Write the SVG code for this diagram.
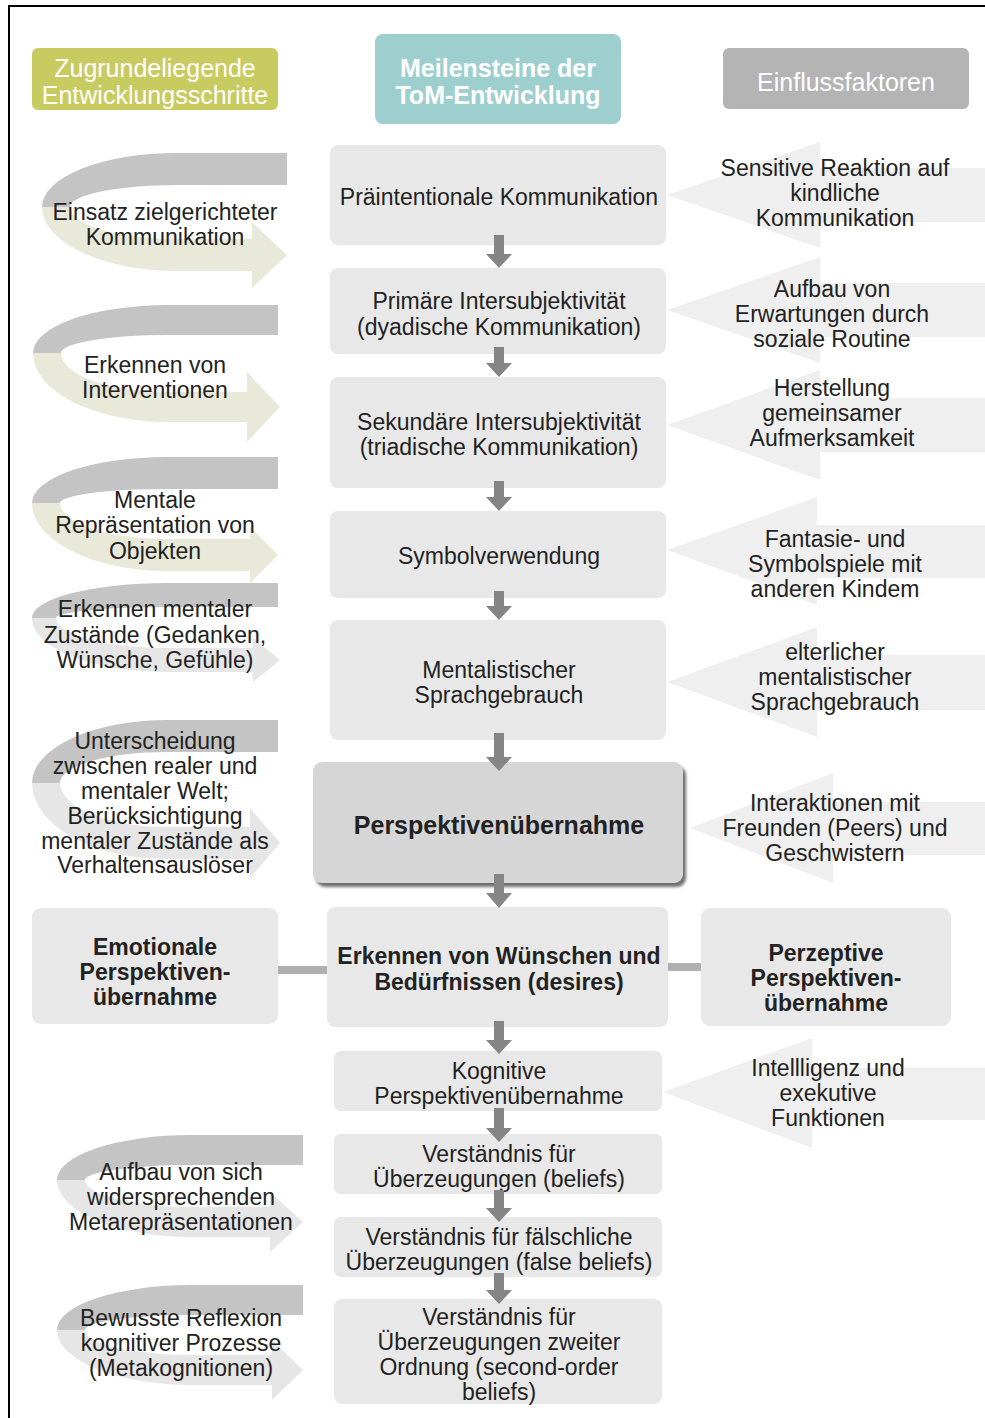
<svg xmlns="http://www.w3.org/2000/svg" width="985" height="1418" viewBox="0 0 985 1418">
<style>
text{font-family:"Liberation Sans",Arial,sans-serif;fill:#222;text-anchor:middle;font-size:23px}
.b{font-weight:bold}
.hd{fill:#fff;font-size:25px}
.box{fill:#e8e8e8}
.rarr{fill:#efefef}
.gband{fill:#c4c4c4}
.cband{fill:#e9e9d9}
.lband{fill:#e6e6e6}
.dn{fill:#858585}
.hl{fill:#b0b0b0}
</style>
<defs>
<filter id="sh" x="-5%" y="-5%" width="115%" height="120%">
<feDropShadow dx="3" dy="4" stdDeviation="1.8" flood-color="#555" flood-opacity="0.85"/>
</filter>
</defs>
<rect width="985" height="1418" fill="#fff"/>
<path d="M9,1418 V6 H985" fill="none" stroke="#000" stroke-width="2"/>

<g id="header-left"><rect x="32" y="48" width="246" height="62" rx="6" fill="#c8cb60"/><text class="hd" x="155" y="77">Zugrundeliegende</text><text class="hd" x="155" y="104">Entwicklungsschritte</text></g>
<g id="header-center"><rect x="375" y="34" width="246" height="90" rx="8" fill="#9dcfcf"/><text class="hd b" x="498" y="77">Meilensteine der</text><text class="hd b" x="498" y="104">ToM-Entwicklung</text></g>
<g id="header-right"><rect x="723" y="48" width="246" height="61" rx="6" fill="#b4b4b4"/><text class="hd" x="846" y="91">Einflussfaktoren</text></g>

<!-- right influence arrows -->
<g id="inf1"><polygon class="rarr" points="667,195 820,142 820,168 985,168 985,222 820,222 820,248"/><text x="835" y="176">Sensitive Reaktion auf</text><text x="835" y="201">kindliche</text><text x="835" y="226">Kommunikation</text></g>
<g id="inf2"><polygon class="rarr" points="667,310 820,257 820,283 985,283 985,337 820,337 820,363"/><text x="832" y="297">Aufbau von</text><text x="832" y="322">Erwartungen durch</text><text x="832" y="347">soziale Routine</text></g>
<g id="inf3"><polygon class="rarr" points="667,425 820,370 820,398 985,398 985,452 820,452 820,480"/><text x="832" y="396">Herstellung</text><text x="832" y="421">gemeinsamer</text><text x="832" y="446">Aufmerksamkeit</text></g>
<g id="inf4"><polygon class="rarr" points="667,550 817,497 817,525 985,525 985,578 817,578 817,605"/><text x="835" y="547">Fantasie- und</text><text x="835" y="572">Symbolspiele mit</text><text x="835" y="597">anderen Kindem</text></g>
<g id="inf5"><polygon class="rarr" points="667,682 817,627 817,655 985,655 985,710 817,710 817,737"/><text x="835" y="660">elterlicher</text><text x="835" y="685">mentalistischer</text><text x="835" y="710">Sprachgebrauch</text></g>
<g id="inf6"><polygon class="rarr" points="690,828 833,773 833,802 985,802 985,855 833,855 833,883"/><text x="835" y="811">Interaktionen mit</text><text x="835" y="836">Freunden (Peers) und</text><text x="835" y="861">Geschwistern</text></g>
<g id="inf7"><polygon class="rarr" points="663,1092 812,1038 812,1068 985,1068 985,1120 812,1120 812,1148"/><text x="828" y="1076">Intellligenz und</text><text x="828" y="1101">exekutive</text><text x="828" y="1126">Funktionen</text></g>

<!-- left development-step spiral arrows -->
<g id="step1"><path class="gband" d="M287,153 L177,153 A135,54 0 0 0 42,207 L70,207 A107,22 0 0 1 177,185 L287,185 Z"/><path class="cband" d="M42,207 A135,64 0 0 0 177,271 L252,271 L252,288 L287,255 L252,222 L252,239 L177,239 A107,32 0 0 1 70,207 Z"/><text x="165" y="220">Einsatz zielgerichteter</text><text x="165" y="245">Kommunikation</text></g>
<g id="step2"><path class="gband" d="M278,305 L168,305 A135,48 0 0 0 33,353 L61,353 A107,18 0 0 1 168,335 L278,335 Z"/><path class="cband" d="M33,353 A135,69 0 0 0 168,422 L247,422 L247,442 L280,407 L247,372 L247,392 L168,392 A107,39 0 0 1 61,353 Z"/><text x="155" y="373">Erkennen von</text><text x="155" y="398">Interventionen</text></g>
<g id="step3"><path class="gband" d="M278,457 L167,457 A135,46 0 0 0 32,503 L60,503 A107,14 0 0 1 167,489 L278,489 Z"/><path class="cband" d="M32,503 A135,68 0 0 0 167,571 L250,571 L250,583 L278,555 L250,527 L250,539 L167,539 A107,36 0 0 1 60,503 Z"/><text x="155" y="508">Mentale</text><text x="155" y="533">Repräsentation von</text><text x="155" y="559">Objekten</text></g>
<g id="step4"><path class="gband" d="M278,583 L167,583 A135,35 0 0 0 32,618 L56,618 A111,11 0 0 1 167,607 L278,607 Z"/><path class="lband" d="M32,618 A135,54 0 0 0 167,672 L253,672 L253,682 L280,660 L253,638 L253,648 L167,648 A111,30 0 0 1 56,618 Z"/><text x="155" y="617">Erkennen mentaler</text><text x="155" y="643">Zustände (Gedanken,</text><text x="155" y="668">Wünsche, Gefühle)</text></g>
<g id="step5"><path class="gband" d="M278,720 L167,720 A135,63 0 0 0 32,783 L60,783 A107,31 0 0 1 167,752 L278,752 Z"/><path class="lband" d="M32,783 A135,76 0 0 0 167,859 L250,859 L250,878 L280,843 L250,808 L250,827 L167,827 A107,44 0 0 1 60,783 Z"/><text x="155" y="749">Unterscheidung</text><text x="155" y="774">zwischen realer und</text><text x="155" y="799">mentaler Welt;</text><text x="155" y="824">Berücksichtigung</text><text x="155" y="849">mentaler Zustände als</text><text x="155" y="873">Verhaltensauslöser</text></g>
<g id="step6"><path class="gband" d="M303,1135 L192,1135 A135,45 0 0 0 57,1180 L85,1180 A107,15 0 0 1 192,1165 L303,1165 Z"/><path class="lband" d="M57,1180 A135,57 0 0 0 192,1237 L270,1237 L270,1252 L303,1222 L270,1192 L270,1207 L192,1207 A107,27 0 0 1 85,1180 Z"/><text x="181" y="1180">Aufbau von sich</text><text x="181" y="1205">widersprechenden</text><text x="181" y="1230">Metarepräsentationen</text></g>
<g id="step7"><path class="gband" d="M303,1285 L192,1285 A135,45 0 0 0 57,1330 L85,1330 A107,15 0 0 1 192,1315 L303,1315 Z"/><path class="lband" d="M57,1330 A135,55 0 0 0 192,1385 L272,1385 L272,1400 L303,1370 L272,1340 L272,1355 L192,1355 A107,25 0 0 1 85,1330 Z"/><text x="181" y="1326">Bewusste Reflexion</text><text x="181" y="1351">kognitiver Prozesse</text><text x="181" y="1376">(Metakognitionen)</text></g>

<!-- milestone nodes -->
<g id="m1"><rect class="box" x="330" y="145" width="336" height="100" rx="8"/><text x="499" y="205">Präintentionale Kommunikation</text></g>
<g id="m2"><rect class="box" x="330" y="268" width="336" height="86" rx="8"/><text x="499" y="309">Primäre Intersubjektivität</text><text x="499" y="335">(dyadische Kommunikation)</text></g>
<g id="m3"><rect class="box" x="330" y="377" width="336" height="111" rx="8"/><text x="499" y="430">Sekundäre Intersubjektivität</text><text x="499" y="455">(triadische Kommunikation)</text></g>
<g id="m4"><rect class="box" x="330" y="511" width="336" height="87" rx="8"/><text x="499" y="564">Symbolverwendung</text></g>
<g id="m5"><rect class="box" x="330" y="620" width="336" height="120" rx="8"/><text x="499" y="678">Mentalistischer</text><text x="499" y="703">Sprachgebrauch</text></g>
<g id="m6"><rect x="313" y="762" width="370" height="121" rx="9" fill="#d6d6d6" filter="url(#sh)"/><text class="b" x="499" y="834" style="font-size:25px">Perspektivenübernahme</text></g>
<g id="m7"><rect class="box" x="327" y="907" width="341" height="120" rx="8"/><text class="b" x="499" y="964">Erkennen von Wünschen und</text><text class="b" x="499" y="990">Bedürfnissen (desires)</text></g>
<g id="emo"><rect class="box" x="32" y="908" width="246" height="116" rx="9"/><text class="b" x="155" y="955">Emotionale</text><text class="b" x="155" y="980">Perspektiven-</text><text class="b" x="155" y="1005">übernahme</text></g>
<g id="perz"><rect class="box" x="701" y="908" width="250" height="118" rx="9"/><text class="b" x="826" y="961">Perzeptive</text><text class="b" x="826" y="986">Perspektiven-</text><text class="b" x="826" y="1011">übernahme</text></g>
<g id="m8"><rect class="box" x="334" y="1051" width="328" height="60" rx="7"/><text x="499" y="1079">Kognitive</text><text x="499" y="1104">Perspektivenübernahme</text></g>
<g id="m9"><rect class="box" x="334" y="1134" width="328" height="60" rx="7"/><text x="499" y="1162">Verständnis für</text><text x="499" y="1187">Überzeugungen (beliefs)</text></g>
<g id="m10"><rect class="box" x="334" y="1217" width="328" height="60" rx="7"/><text x="499" y="1245">Verständnis für fälschliche</text><text x="499" y="1270">Überzeugungen (false beliefs)</text></g>
<g id="m11"><rect class="box" x="334" y="1299" width="328" height="105" rx="8"/><text x="499" y="1325">Verständnis für</text><text x="499" y="1350">Überzeugungen zweiter</text><text x="499" y="1375">Ordnung (second-order</text><text x="499" y="1400">beliefs)</text></g>

<!-- connectors -->
<g id="connectors">
<rect class="hl" x="278" y="966" width="49" height="8"/>
<rect class="hl" x="668" y="963" width="33" height="8"/>
<path class="dn" d="M494,235 h10 v19 h8 l-13,14 l-13,-14 h8 Z"/>
<path class="dn" d="M494,347 h10 v16 h8 l-13,14 l-13,-14 h8 Z"/>
<path class="dn" d="M494,481 h10 v16 h8 l-13,14 l-13,-14 h8 Z"/>
<path class="dn" d="M494,591 h10 v15 h8 l-13,14 l-13,-14 h8 Z"/>
<path class="dn" d="M494,733 h10 v24 h8 l-13,14 l-13,-14 h8 Z"/>
<path class="dn" d="M494,874 h10 v19 h8 l-13,15 l-13,-15 h8 Z"/>
<path class="dn" d="M494,1021 h10 v19 h8 l-13,14 l-13,-14 h8 Z"/>
<path class="dn" d="M494,1108 h10 v20 h8 l-13,14 l-13,-14 h8 Z"/>
<path class="dn" d="M494,1190 h10 v18 h8 l-13,14 l-13,-14 h8 Z"/>
<path class="dn" d="M494,1273 h10 v17 h8 l-13,14 l-13,-14 h8 Z"/>
</g>
</svg>
